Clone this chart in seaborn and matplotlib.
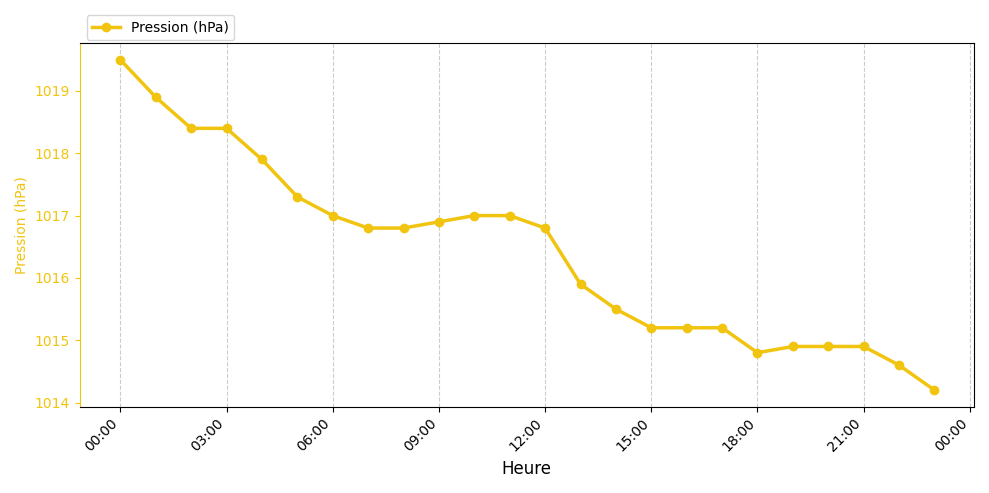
import matplotlib
matplotlib.use("Agg")
import matplotlib.pyplot as plt
import matplotlib.dates as mdates
import seaborn as sns
import pandas as pd

hours = pd.date_range("2024-01-01 00:00", periods=24, freq="h")
pressure = [1019.5, 1018.9, 1018.4, 1018.4, 1017.9, 1017.3, 1017.0, 1016.8,
            1016.8, 1016.9, 1017.0, 1017.0, 1016.8, 1015.9, 1015.5, 1015.2,
            1015.2, 1015.2, 1014.8, 1014.9, 1014.9, 1014.9, 1014.6, 1014.2]
color = "#F1C40F"

df = pd.DataFrame({"Heure": hours, "Pression (hPa)": pressure})

fig, ax = plt.subplots(figsize=(9.89, 4.93), dpi=100)
sns.lineplot(data=df, x="Heure", y="Pression (hPa)", ax=ax, color=color,
             marker="o", markersize=7, markeredgewidth=0, linewidth=2.5,
             label="Pression (hPa)")

ax.set_xlim(mdates.date2num(pd.Timestamp("2024-01-01 00:00") - pd.Timedelta(minutes=69)),
            mdates.date2num(pd.Timestamp("2024-01-02 00:00") + pd.Timedelta(minutes=7)))
ax.xaxis.set_major_locator(mdates.HourLocator(byhour=range(0, 24, 3)))
ax.xaxis.set_major_formatter(mdates.DateFormatter("%H:%M"))
plt.setp(ax.get_xticklabels(), rotation=45, ha="right")
ax.grid(axis="x", linestyle="--", color="#cccccc", linewidth=0.8)
ax.set_xlabel("Heure", fontsize=12)
ax.set_ylabel("Pression (hPa)", color=color)
ax.tick_params(axis="y", colors=color)
ax.tick_params(axis="y", labelcolor=color)
ax.spines["left"].set_color(color)
ax.legend(loc="lower left", bbox_to_anchor=(0.0, 0.99), frameon=True)

fig.tight_layout()
fig.savefig("out.png", dpi=100)
